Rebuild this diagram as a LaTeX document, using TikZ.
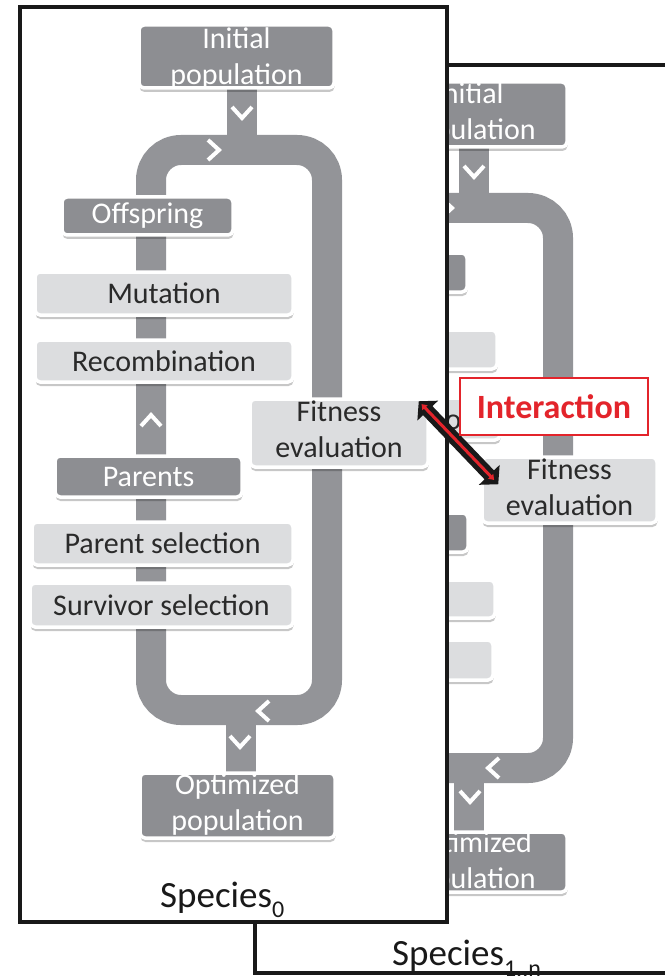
\documentclass[tikz,border=0pt]{standalone}
\usepackage{fontspec}
\setmainfont{Carlito}
\usetikzlibrary{arrows.meta,shadows,calc}
\definecolor{band}{HTML}{939498}
\definecolor{dkbox}{HTML}{8D8E92}
\definecolor{ltbox}{HTML}{DCDDDF}
\definecolor{txtdark}{HTML}{2A2A2A}
\definecolor{intred}{HTML}{E3242B}
\newcommand\twol[3]{\raisebox{#1}[0pt][0pt]{\begin{tabular}[b]{@{}c@{}}#2\\#3\end{tabular}}}
\newcommand\chevdown[2]{\draw[chev] ({#1-10},{#2-6}) -- (#1,{#2+5}) -- ({#1+10},{#2-6});}
\newcommand\chevup[2]{\draw[chev] ({#1-10},{#2+6}) -- (#1,{#2-5}) -- ({#1+10},{#2+6});}
\newcommand\chevright[2]{\draw[chev] ({#1-6},{#2-10}) -- ({#1+5},#2) -- ({#1-6},{#2+10});}
\newcommand\chevleft[2]{\draw[chev] ({#1+6},{#2-10}) -- ({#1-5},#2) -- ({#1+6},{#2+10});}
\tikzset{
  basebox/.style={rectangle, rounded corners=5pt, draw=white, line width=3.5pt, inner sep=0pt,
    font=\fontsize{30}{36}\selectfont,
    drop shadow={shadow xshift=0.5pt, shadow yshift=-4pt, opacity=0.22, fill=black}},
  darkbox/.style={basebox, fill=dkbox, text=white},
  lightbox/.style={basebox, fill=ltbox, text=txtdark},
  loopband/.style={draw=band, line width=30pt, rounded corners=30pt},
  stemband/.style={draw=band, line width=30pt},
  chev/.style={draw=white, line width=4pt},
  speciesbox/.style={draw=black!90, line width=4pt},
  splabel/.style={anchor=base west, inner sep=0pt, text=black!90, font=\fontsize{37}{40}\selectfont},
}
\begin{document}
\begin{tikzpicture}[x=1pt,y=-1pt]
\useasboundingbox[fill=white] (0,0) rectangle (664,976);

% ---------- Species 1..n (behind) ----------
\draw[speciesbox] (255,65) rectangle (690,973);
\draw[loopband] (383,208) rectangle (558,768);
\draw[stemband] (474,146) -- (474,210);
\draw[stemband] (469,766) -- (469,832);
\node[darkbox, minimum width=195pt, minimum height=65pt] (init1) at (469.5,114.5) {\twol{-25.5pt}{Initial}{population}};
\node[darkbox, minimum width=167pt, minimum height=39pt] (off1) at (383.5,272.5) {};
\node[lightbox, minimum width=227pt, minimum height=39pt] (mut1) at (383.5,349.5) {};
\node[lightbox, minimum width=230pt, minimum height=42pt] (rec1) at (385,419) {Recombination};
\node[darkbox, minimum width=168pt, minimum height=39pt] (par1) at (384,532.5) {};
\node[lightbox, minimum width=225pt, minimum height=38pt] (psel1) at (382.5,599) {};
\node[lightbox, minimum width=223pt, minimum height=40pt] (ssel1) at (381.5,660) {};
\node[lightbox, minimum width=175pt, minimum height=66pt] (fit1) at (569.5,490) {\twol{-25pt}{Fitness}{evaluation}};
\node[darkbox, minimum width=195pt, minimum height=60pt] (opt1) at (469.5,862) {\twol{-26pt}{Optimized}{population}};
\chevdown{474}{172}
\chevright{447}{208}
\chevleft{493}{768}
\chevdown{470}{797}
\node[splabel] (sp1) at (392,965) {Species\raisebox{-11pt}{\fontsize{24}{24}\selectfont 1..n}};

% ---------- Species 0 ----------
\draw[speciesbox, fill=white] (20,7) rectangle (447,922);
\draw[loopband] (151,150) rectangle (327,710);
\draw[stemband] (242,86) -- (242,152);
\draw[stemband] (241,708) -- (241,773);
\node[darkbox, minimum width=195pt, minimum height=63pt] (init0) at (236.5,56.5) {\twol{-28.5pt}{Initial}{population}};
\node[darkbox, minimum width=171pt, minimum height=38pt] (off0) at (147.5,216) {Offspring};
\node[lightbox, minimum width=258pt, minimum height=43pt] (mut0) at (164,293.5) {Mutation};
\node[lightbox, minimum width=258pt, minimum height=42pt] (rec0) at (164,361) {Recombination};
\node[darkbox, minimum width=187pt, minimum height=41pt] (par0) at (148.5,476.5) {Parents};
\node[lightbox, minimum width=261pt, minimum height=43pt] (psel0) at (162.5,543.5) {Parent selection};
\node[lightbox, minimum width=263pt, minimum height=44pt] (ssel0) at (161.5,605) {Survivor selection};
\node[lightbox, minimum width=178pt, minimum height=68pt] (fit0) at (339,433) {\twol{-24pt}{Fitness}{evaluation}};
\node[darkbox, minimum width=195pt, minimum height=65pt] (opt0) at (237.5,805.5) {\twol{-24.5pt}{Optimized}{population}};
\chevdown{242}{113}
\chevright{214}{150}
\chevup{151}{420}
\chevleft{263}{711}
\chevdown{240}{742}
\node[splabel] (sp0) at (160,907) {Species\raisebox{-10pt}{\fontsize{24}{24}\selectfont 0}};

% ---------- Interaction ----------
\coordinate (ia) at ($(fit0.north east)+(-11,4)$);
\coordinate (ib) at ($(fit1.north west)+(18,29)$);
\draw[black!90, line width=13pt, {Triangle[width=28pt,length=13pt]}-{Triangle[width=28pt,length=13pt]}] (ia) -- (ib);
\draw[intred, line width=3pt, shorten <=4pt, shorten >=6pt, {Triangle[width=7pt,length=5pt]}-{Triangle[width=7pt,length=5pt]}] (ia) -- (ib);
\node[draw=intred, line width=2pt, fill=white, text=intred, inner sep=0pt,
      font=\bfseries\fontsize{34}{36}\selectfont, minimum width=188pt, minimum height=57pt] (inter) at (554,406.5) {Interaction};
\end{tikzpicture}
\end{document}
